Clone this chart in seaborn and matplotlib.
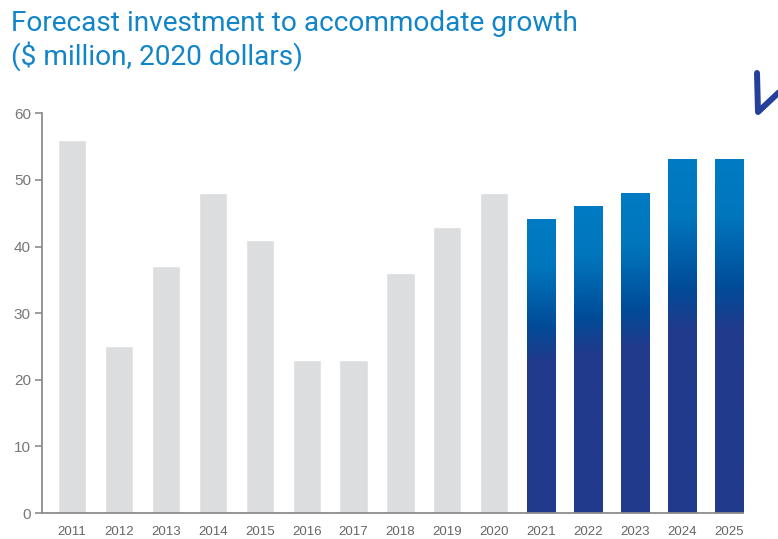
import numpy as np
import pandas as pd
import matplotlib
matplotlib.use("Agg")
import matplotlib.pyplot as plt
from matplotlib.colors import LinearSegmentedColormap
from matplotlib.lines import Line2D
import seaborn as sns

years = ["2011", "2012", "2013", "2014", "2015", "2016", "2017", "2018",
         "2019", "2020", "2021", "2022", "2023", "2024", "2025"]
investment = [56, 25, 37, 48, 41, 23, 23, 36, 43, 48, 44, 46, 48, 53, 53]
period = ["Actual"] * 10 + ["Forecast"] * 5

title = "Forecast investment to accommodate growth\n($ million, 2020 dollars)"

df = pd.DataFrame({"year": years, "investment": investment, "period": period})

sns.set_theme(style="white")
plt.rcParams["font.family"] = ["Liberation Sans", "DejaVu Sans"]

fig = plt.figure(figsize=(7.78, 5.39), dpi=100)
ax = fig.add_axes([0.054, 0.048, 0.901, 0.742])

sns.barplot(data=df, x="year", y="investment", hue="period",
            palette={"Actual": "#dcdddf", "Forecast": "#213a8c"},
            dodge=False, width=0.6, legend=False, ax=ax, saturation=1)

# vertical gradient for the forecast bars: bright blue at top, navy at bottom
grad = LinearSegmentedColormap.from_list(
    "fc", [(0.0, "#213a8c"), (0.52, "#213a8c"), (0.64, "#004c98"),
           (0.84, "#0076bd"), (1.0, "#007bc3")])
ramp = np.linspace(0, 1, 256).reshape(-1, 1)
for patch in ax.patches:
    fc = patch.get_facecolor()
    if abs(fc[0] - 0x21 / 255) < 0.02 and abs(fc[2] - 0x8c / 255) < 0.02:
        x0 = patch.get_x()
        w = patch.get_width()
        h = patch.get_height()
        ax.imshow(ramp, cmap=grad, origin="lower", aspect="auto",
                  extent=[x0, x0 + w, 0, h], zorder=patch.get_zorder() + 0.1,
                  interpolation="bilinear")

ax.set_xlim(-0.64, 14.3)
ax.set_ylim(0, 60)
ax.set_yticks(np.arange(0, 61, 10))
ax.set_xlabel("")
ax.set_ylabel("")

for s in ["top", "right"]:
    ax.spines[s].set_visible(False)
for s in ["left", "bottom"]:
    ax.spines[s].set_color("#8c8c8c")
    ax.spines[s].set_linewidth(1.3)

ax.tick_params(axis="y", left=True, length=5, width=1.2, color="#8c8c8c",
               labelsize=11, labelcolor="#777777", pad=3)
ax.tick_params(axis="x", bottom=False, labelsize=9.5, labelcolor="#666666",
               pad=3)

fig.text(0.014, 0.982, title, ha="left", va="top", fontsize=20.2,
         color="#1285c9", linespacing=1.2, family=["Roboto", "DejaVu Sans"],
         fontweight="normal")

# hand-drawn pointer in the top-right corner (figure pixel coordinates)
px = lambda x, y: (x / 778, 1 - y / 539)
pts = [px(792, 80), px(758, 112), px(757, 73)]
fig.add_artist(Line2D([p[0] for p in pts], [p[1] for p in pts],
                      transform=fig.transFigure, color="#24409a",
                      linewidth=4.3, solid_capstyle="round",
                      solid_joinstyle="round"))

fig.savefig("out.png", dpi=100)
